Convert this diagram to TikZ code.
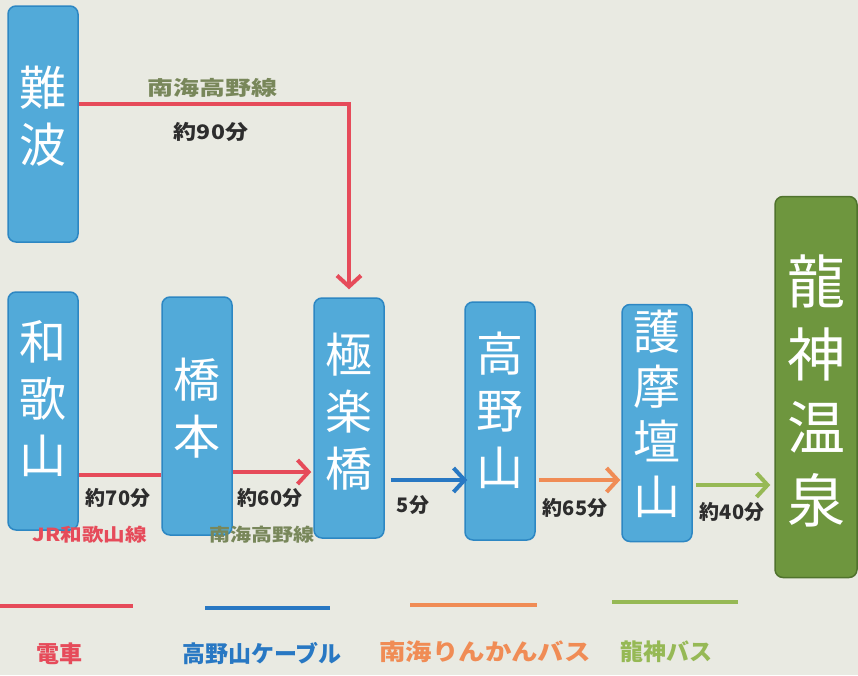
\documentclass[tikz,border=0pt]{standalone}
\usepackage{fontspec}
\usepackage{graphicx}
\usetikzlibrary{arrows.meta}
\newfontfamily\jp{Noto Sans CJK JP}
\definecolor{haikei}{RGB}{233,234,226}
\definecolor{ekifill}{RGB}{82,170,217}
\definecolor{ekiedge}{RGB}{45,135,195}
\definecolor{onsenfill}{RGB}{110,150,62}
\definecolor{onsenedge}{RGB}{80,115,45}
\definecolor{densha}{RGB}{230,75,90}
\definecolor{cable}{RGB}{40,120,195}
\definecolor{rinkan}{RGB}{240,140,85}
\definecolor{ryujinbus}{RGB}{150,185,85}
\definecolor{senmei}{RGB}{120,135,90}
\definecolor{jikan}{RGB}{45,45,45}
\newcommand\yoko[2]{\scalebox{#1}[1]{#2}}

\begin{document}
\begin{tikzpicture}[x=1pt,y=-1pt,
  eki/.style={draw=ekiedge,fill=ekifill,line width=1.5pt,rounded corners=8pt,
    minimum width=70pt,inner sep=0pt},
  ekimoji/.style={text=white,align=center,inner sep=0pt,
    font=\jp\fontsize{47}{57}\selectfont},
  onsen/.style={eki,draw=onsenedge,fill=onsenfill,minimum width=82pt},
  onsenmoji/.style={ekimoji,font=\jp\fontsize{58}{73}\selectfont},
  sen/.style={line width=4pt,-{Straight Barb[length=11pt,width=24pt]}},
  fun/.style={text=jikan,font=\jp\bfseries\fontsize{20}{22}\selectfont},
  rosen/.style={font=\jp\bfseries\fontsize{18}{22}\selectfont},
  hanrei/.style={line width=4pt},
  hanreimoji/.style={font=\jp\bfseries\fontsize{23}{26}\selectfont}]
\useasboundingbox (0,0) rectangle (858,675);
\fill[haikei] (0,0) rectangle (858,675);

\node[eki,minimum height=236pt,label={[ekimoji,yshift=8pt]center:{難\\波}}] (namba) at (43,124) {};
\node[eki,minimum height=238pt,label={[ekimoji,yshift=12pt]center:{和\\歌\\山}}] (wakayama) at (43,411) {};
\node[eki,minimum height=238pt,label={[ekimoji,yshift=8pt]center:{橋\\本}}] (hashimoto) at (197,416) {};
\node[eki,minimum height=240pt,label={[ekimoji,yshift=6pt]center:{極\\楽\\橋}}] (gokuraku) at (349,418) {};
\node[eki,minimum height=238pt,label={[ekimoji,yshift=11pt]center:{高\\野\\山}}] (koya) at (500,421) {};
\node[eki,minimum height=237pt,label={[ekimoji,font=\jp\fontsize{47}{55}\selectfont,yshift=9pt]center:{護\\摩\\壇\\山}}] (gomadan) at (657,423) {};
\node[onsen,minimum height=381pt,label={[onsenmoji,yshift=-4pt]center:{龍\\神\\温\\泉}}] (ryujin) at (816,387) {};

\draw[sen,densha] ([yshift=20pt]namba.east) -| ([yshift=8pt]gokuraku.north);
\draw[sen,densha,-] ([yshift=-64pt]wakayama.east) -- ([yshift=-64pt]wakayama.east -| hashimoto.west);
\draw[sen,densha,shorten >=2pt] ([yshift=-56pt]hashimoto.east) -- ([yshift=-56pt]hashimoto.east -| gokuraku.west);
\draw[sen,cable,shorten >=3pt] ([xshift=6pt,yshift=-62pt]gokuraku.east) -- ([xshift=6pt,yshift=-62pt]gokuraku.east -| koya.west);
\draw[sen,rinkan,shorten >=4pt] ([xshift=3pt,yshift=-59pt]koya.east) -- ([xshift=3pt,yshift=-59pt]koya.east -| gomadan.west);
\draw[sen,ryujinbus,shorten >=7pt] ([xshift=3pt,yshift=-62pt]gomadan.east) -- ([xshift=3pt,yshift=-62pt]gomadan.east -| ryujin.west);

\node[rosen,text=senmei,font=\jp\bfseries\fontsize{20}{22}\selectfont] (nankai1) at (212,88) {\yoko{1.3}{南海高野線}};
\node[fun] (fun90) at (211,132) {\yoko{1.15}{約90分}};
\node[fun] (fun70) at (118,498) {約70分};
\node[rosen,text=densha] (jr) at (90,535) {\yoko{1.2}{JR和歌山線}};
\node[fun] (fun60) at (270,498) {約60分};
\node[rosen,text=senmei] (nankai2) at (262,535) {\yoko{1.17}{南海高野線}};
\node[fun] (fun5) at (413,505) {5分};
\node[fun] (fun65) at (575,508) {約65分};
\node[fun] (fun40) at (732,512) {約40分};

\draw[hanrei,densha] (0,606) -- (133,606);
\draw[hanrei,cable] (205,608) -- (330,608);
\draw[hanrei,rinkan] (410,605) -- (537,605);
\draw[hanrei,ryujinbus] (612,602) -- (738,602);
\node[hanreimoji,text=densha] (h1) at (59,654) {電車};
\node[hanreimoji,text=cable] (h2) at (262,654) {高野山ケーブル};
\node[hanreimoji,text=rinkan] (h3) at (485,652) {\yoko{1.15}{南海りんかんバス}};
\node[hanreimoji,text=ryujinbus] (h4) at (666,652) {龍神バス};
\end{tikzpicture}
\end{document}
